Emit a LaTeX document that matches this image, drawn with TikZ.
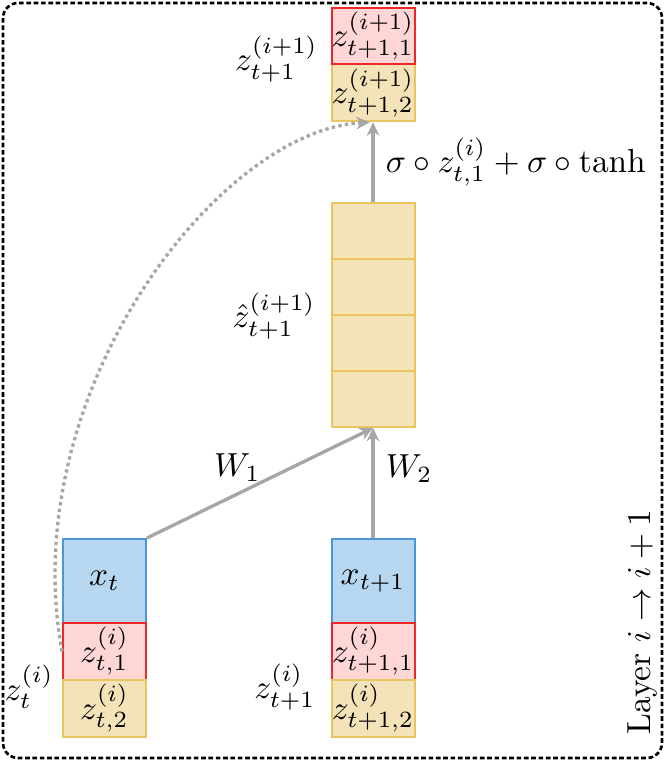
\documentclass[tikz,border=0pt]{standalone}
\usetikzlibrary{positioning,arrows.meta}

\definecolor{xblue}{RGB}{183,214,239}
\definecolor{xblueline}{RGB}{74,150,217}
\definecolor{zred}{RGB}{255,214,214}
\definecolor{zredline}{RGB}{238,40,40}
\definecolor{zyel}{RGB}{244,227,184}
\definecolor{zyelline}{RGB}{232,197,95}
\definecolor{wiregray}{RGB}{166,166,166}

\begin{document}
\begin{tikzpicture}[
    node distance = -0.6pt,
    > = {Stealth[length=4pt, width=3.8pt]},
    box/.style = {draw, line width = 0.6pt, inner sep = 0pt,
      minimum width = 0.875cm},
    xbox/.style = {box, fill = xblue, draw = xblueline, minimum height = 0.885cm},
    zone/.style = {box, fill = zred, draw = zredline, minimum height = 0.6cm},
    ztwo/.style = {box, fill = zyel, draw = zyelline, minimum height = 0.6cm},
    hcell/.style = {box, fill = zyel, draw = zyelline, minimum height = 0.59cm},
    wire/.style = {->, draw = wiregray, line width = 1pt},
    skip/.style = {->, draw = wiregray, line width = 1pt, densely dotted},
    frame/.style = {draw, thick, dash pattern = on 1.4pt off 0.8pt,
      rounded corners = 4.5pt},
    ]

    \useasboundingbox (0, 0) rectangle (7.052, 8.064);

    % the layer frame
    \coordinate (fnw) at (0.032, 8.032);
    \coordinate (fse) at (6.978, 0.074);
    \draw[frame] (fnw) rectangle (fse);
    \node[rotate = 90, anchor = base west, inner sep = 0pt] (layer)
      at (6.852, 0.316) {Layer $ i \rightarrow i+1 $};

    % input at time t
    \node[xbox] (xt) at (1.102, 1.940) {$ x_t $};
    \node[zone, below = of xt] (zt1) {$ z^{(i)}_{t,1} $};
    \node[ztwo, below = of zt1] (zt2) {$ z^{(i)}_{t,2} $};
    \node[left = -1pt of zt2.north west, yshift = -2.4pt] (lzt) {$ z^{(i)}_t $};

    % input at time t+1
    \node[xbox] (xn) at (3.932, 1.940) {$ x_{t+1} $};
    \node[zone, below = of xn] (zn1) {$ z^{(i)}_{t+1,1} $};
    \node[ztwo, below = of zn1] (zn2) {$ z^{(i)}_{t+1,2} $};
    \node[left = 1pt of zn2.north west, yshift = -2.4pt] (lzn) {$ z^{(i)}_{t+1} $};

    % candidate state, four cells
    \node[hcell, above = 1.16cm of xn] (h4) {};
    \node[hcell, above = of h4] (h3) {};
    \node[hcell, above = of h3] (h2) {};
    \node[hcell, above = of h2] (h1) {};
    \node[left = 1pt of h2.south west] (lzh) {$ \hat{z}^{(i+1)}_{t+1} $};

    % output state
    \node[ztwo, above = 0.84cm of h1] (o2) {$ z^{(i+1)}_{t+1,2} $};
    \node[zone, above = of o2] (o1) {$ z^{(i+1)}_{t+1,1} $};
    \node[left = 0.3pt of o1.south west, yshift = 2pt] (lzo) {$ z^{(i+1)}_{t+1} $};

    % connections
    \draw[wire] (xt.north east) -- node[pos = 0.4, above] (w1) {$ W_1 $} (h4.south);
    \draw[wire] (xn.north) -- node[pos = 0.63, right] (w2) {$ W_2 $} (h4.south);
    \draw[wire] (h1.north) -- node[midway, right] (gate)
      {$ \sigma \circ z^{(i)}_{t,1} + \sigma \circ \tanh $} (o2.south);
    % skip path of the first half
    \draw[skip] (zt1.west) .. controls +(-0.5, 2.7) and +(-1.6, -0.08)
      .. ([xshift = -1pt]o2.south);

\end{tikzpicture}
\end{document}
